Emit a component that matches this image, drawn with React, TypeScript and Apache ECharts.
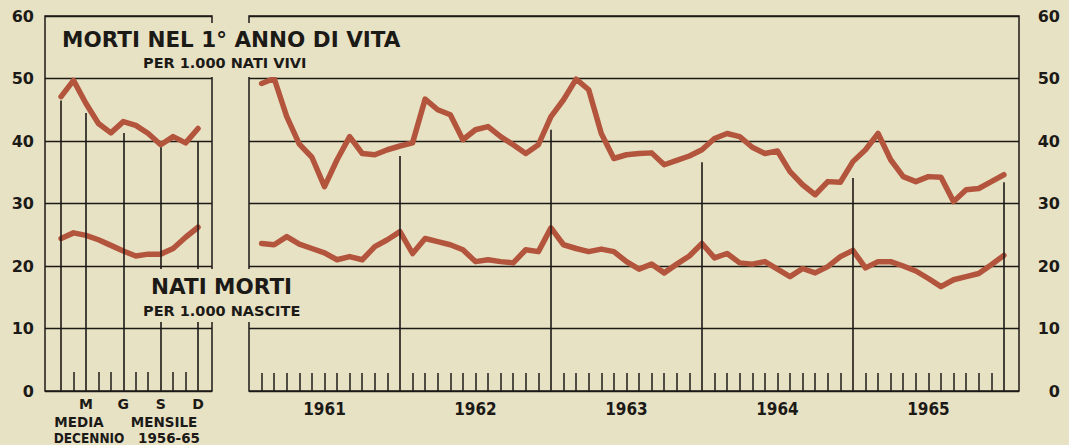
import React, { useEffect, useRef } from "react";
import * as echarts from "echarts";

// ---- data ----
const monthLetters = ["G", "F", "M", "A", "M", "G", "L", "A", "S", "O", "N", "D"];
const labelledMonths = [3, 6, 9, 12];
const tickMonths = [2, 4, 5, 7, 8, 10, 11];
const longMonths = [1, 3, 6, 9, 12];
const longMonthTops = [46.5, 44.5, 41.3, 39.0, 40.0];

// monthly average 1956-65 (per 1.000)
const avgInfant = [47.1, 49.7, 46.0, 42.8, 41.3, 43.1, 42.5, 41.2, 39.4, 40.7, 39.7, 42.0];
const avgStill = [24.4, 25.3, 24.9, 24.2, 23.3, 22.4, 21.6, 21.9, 21.9, 22.8, 24.6, 26.2];

const years = ["1961", "1962", "1963", "1964", "1965"];
const yearCenters = [6, 18, 30, 42, 54];
const yearEnds = [12, 24, 36, 48, 60];
const yearLineTops = [37.6, 41.8, 36.6, 34.1, 33.4];

// monthly 1961-1965: infant deaths per 1.000 live births
const infant = [
  49.2, 50.0, 43.9, 39.5, 37.4, 32.7, 37.0, 40.7, 38.0, 37.8, 38.6, 39.2,
  39.7, 46.7, 45.0, 44.2, 40.2, 41.8, 42.3, 40.7, 39.4, 38.0, 39.4, 43.9,
  46.6, 49.9, 48.2, 41.2, 37.2, 37.8, 38.0, 38.1, 36.2, 36.9, 37.6, 38.6,
  40.4, 41.2, 40.7, 39.0, 38.0, 38.4, 35.1, 33.0, 31.4, 33.5, 33.4, 36.7,
  38.6, 41.2, 37.0, 34.3, 33.5, 34.3, 34.2, 30.3, 32.2, 32.4, 33.5, 34.6,
];
// stillbirths per 1.000 births
const still = [
  23.6, 23.4, 24.7, 23.5, 22.8, 22.1, 21.0, 21.5, 21.0, 23.1, 24.2, 25.5,
  22.0, 24.4, 23.9, 23.4, 22.6, 20.7, 21.0, 20.7, 20.5, 22.6, 22.3, 26.1,
  23.4, 22.8, 22.3, 22.7, 22.3, 20.7, 19.5, 20.3, 18.9, 20.3, 21.6, 23.6,
  21.3, 22.0, 20.5, 20.3, 20.7, 19.5, 18.3, 19.6, 18.9, 19.9, 21.5, 22.5,
  19.7, 20.7, 20.7, 20.0, 19.2, 18.0, 16.7, 17.8, 18.3, 18.8, 20.2, 21.7,
];

const PAPER = "#e8e2c5";
const INK = "#1c1a17";
const CURVE = "#b3553d";
const NUM_FONT = '"DejaVu Sans", sans-serif';
const COND_FONT = '"Liberation Sans Narrow", "DejaVu Sans Condensed", "DejaVu Sans", sans-serif';

export default function App() {
  const ref = useRef<HTMLDivElement>(null);

  useEffect(() => {
    document.body.style.margin = "0";
    document.body.style.background = PAPER;
    if (!ref.current) return;
    const chart = echarts.init(ref.current, null, { renderer: "svg" });

    const monthIdx = Array.from({ length: 59 }, (_, i) => i + 1).filter((k) => k % 12 !== 0);

    const curveStyle = { color: CURVE, width: 5.5, cap: "round", join: "round" };

    const option: any = {
      animation: false,
      backgroundColor: PAPER,
      grid: [
        { left: 45, top: 16, width: 167, height: 375, show: true, borderColor: INK, borderWidth: 1.5, backgroundColor: "transparent" },
        { left: 249, top: 16, width: 770, height: 375, show: true, borderColor: INK, borderWidth: 1.5, backgroundColor: "transparent" },
      ],
      xAxis: [
        {
          gridIndex: 0,
          type: "value",
          min: -0.29,
          max: 13.12,
          axisLine: { show: false },
          splitLine: { show: false },
          axisTick: { show: true, inside: true, length: 19, customValues: tickMonths, lineStyle: { color: INK, width: 1.5 } },
          axisLabel: {
            customValues: labelledMonths,
            formatter: (v: number) => monthLetters[Math.round(v) - 1],
            margin: 6,
            color: INK,
            fontFamily: NUM_FONT,
            fontWeight: "bold",
            fontSize: 14,
          },
        },
        {
          gridIndex: 1,
          type: "value",
          min: 0,
          max: 61.2,
          axisLine: { show: false },
          splitLine: { show: false },
          axisTick: { show: true, inside: true, length: 18, customValues: monthIdx, lineStyle: { color: INK, width: 1.5 } },
          axisLabel: {
            customValues: yearCenters,
            formatter: (v: number) => years[Math.round((v - 6) / 12)],
            margin: 9,
            color: INK,
            fontFamily: COND_FONT,
            fontWeight: "bold",
            fontSize: 17,
          },
        },
      ],
      yAxis: [
        {
          gridIndex: 0,
          type: "value",
          min: 0,
          max: 60,
          interval: 10,
          position: "left",
          axisLine: { show: false },
          axisTick: { show: false },
          splitLine: { show: true, lineStyle: { color: INK, width: 1.4 } },
          axisLabel: { margin: 11, color: INK, fontFamily: NUM_FONT, fontWeight: "bold", fontSize: 16 },
        },
        {
          gridIndex: 1,
          type: "value",
          min: 0,
          max: 60,
          interval: 10,
          position: "right",
          axisLine: { show: false },
          axisTick: { show: false },
          splitLine: { show: true, lineStyle: { color: INK, width: 1.4 } },
          axisLabel: { margin: 41, align: "right", color: INK, fontFamily: NUM_FONT, fontWeight: "bold", fontSize: 16 },
        },
      ],
      series: [
        {
          type: "line",
          xAxisIndex: 0,
          yAxisIndex: 0,
          data: [],
          z: 1,
          markLine: {
            silent: true,
            symbol: ["none", "none"],
            label: { show: false },
            lineStyle: { color: INK, width: 1.6, type: "solid" },
            data: longMonths.map((m, i) => [{ coord: [m, longMonthTops[i]] }, { coord: [m, 0] }]),
          },
        },
        {
          type: "line",
          xAxisIndex: 1,
          yAxisIndex: 1,
          data: [],
          z: 1,
          markLine: {
            silent: true,
            symbol: ["none", "none"],
            label: { show: false },
            lineStyle: { color: INK, width: 1.6, type: "solid" },
            data: yearEnds.map((m, i) => [{ coord: [m, yearLineTops[i]] }, { coord: [m, 0] }]),
          },
        },
        {
          type: "line",
          xAxisIndex: 0,
          yAxisIndex: 0,
          z: 3,
          symbol: "none",
          data: avgInfant.map((v, i) => [i + 1, v]),
          lineStyle: curveStyle,
        },
        {
          type: "line",
          xAxisIndex: 0,
          yAxisIndex: 0,
          z: 3,
          symbol: "none",
          data: avgStill.map((v, i) => [i + 1, v]),
          lineStyle: curveStyle,
        },
        {
          type: "line",
          xAxisIndex: 1,
          yAxisIndex: 1,
          z: 3,
          symbol: "none",
          data: infant.map((v, i) => [i + 1, v]),
          lineStyle: curveStyle,
        },
        {
          type: "line",
          xAxisIndex: 1,
          yAxisIndex: 1,
          z: 3,
          symbol: "none",
          data: still.map((v, i) => [i + 1, v]),
          lineStyle: curveStyle,
        },
      ],
      graphic: [
        { type: "rect", z: 50, shape: { x: 57, y: 23, width: 356, height: 54 }, style: { fill: PAPER } },
        {
          type: "text", z: 51, x: 62, y: 39,
          style: { text: "MORTI NEL 1° ANNO DI VITA", font: 'bold 21.5px "DejaVu Sans", sans-serif', fill: INK, verticalAlign: "middle" },
        },
        {
          type: "text", z: 51, x: 143, y: 63,
          style: { text: "PER 1.000 NATI VIVI", font: 'bold 14.5px "DejaVu Sans", sans-serif', fill: INK, verticalAlign: "middle" },
        },
        { type: "rect", z: 50, shape: { x: 140, y: 269, width: 172, height: 53 }, style: { fill: PAPER } },
        {
          type: "text", z: 51, x: 151, y: 286,
          style: { text: "NATI MORTI", font: 'bold 21.5px "DejaVu Sans", sans-serif', fill: INK, verticalAlign: "middle" },
        },
        {
          type: "text", z: 51, x: 143, y: 311,
          style: { text: "PER 1.000 NASCITE", font: 'bold 14.5px "DejaVu Sans", sans-serif', fill: INK, verticalAlign: "middle" },
        },
        {
          type: "text", z: 51, x: 79, y: 422,
          style: { text: "MEDIA", font: 'bold 13.5px "DejaVu Sans", sans-serif', fill: INK, align: "center", verticalAlign: "middle" },
        },
        {
          type: "text", z: 51, x: 164, y: 422,
          style: { text: "MENSILE", font: 'bold 13.5px "DejaVu Sans", sans-serif', fill: INK, align: "center", verticalAlign: "middle" },
        },
        {
          type: "text", z: 51, x: 89, y: 438,
          style: { text: "DECENNIO", font: 'bold 13.5px "DejaVu Sans Condensed", "DejaVu Sans", sans-serif', fill: INK, align: "center", verticalAlign: "middle" },
        },
        {
          type: "text", z: 51, x: 169, y: 438,
          style: { text: "1956-65", font: 'bold 13.5px "DejaVu Sans", sans-serif', fill: INK, align: "center", verticalAlign: "middle" },
        },
      ],
    };

    chart.setOption(option);
    return () => chart.dispose();
  }, []);

  return <div ref={ref} style={{ width: 1069, height: 445, background: PAPER }} />;
}
